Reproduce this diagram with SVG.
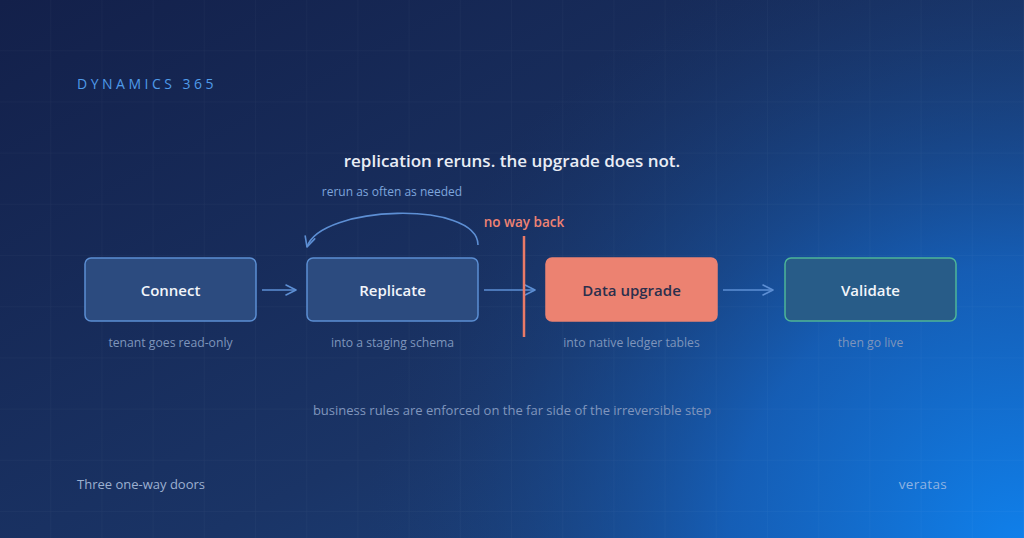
<svg xmlns="http://www.w3.org/2000/svg" width="1024" height="538" viewBox="0 0 1024 538">
<defs>
<linearGradient id="bg" x1="0" y1="0" x2="1" y2="1">
<stop offset="0" stop-color="#13204a"/>
<stop offset="0.6" stop-color="#1a3466"/>
<stop offset="1" stop-color="#1c4a8a"/>
</linearGradient>
<radialGradient id="glow" cx="1024" cy="560" r="660" gradientUnits="userSpaceOnUse">
<stop offset="0" stop-color="#0f82ee" stop-opacity="1"/>
<stop offset="0.45" stop-color="#1465c4" stop-opacity="0.8"/>
<stop offset="1" stop-color="#1a3a70" stop-opacity="0"/>
</radialGradient>
<pattern id="grid" width="51.2" height="51.2" patternUnits="userSpaceOnUse">
<path d="M51.2 0V51.2M0 51.2H51.2" fill="none" stroke="#ffffff" stroke-opacity="0.045" stroke-width="1"/>
</pattern>
<marker id="chev" viewBox="0 0 12 12" refX="11" refY="6" markerWidth="12" markerHeight="12" markerUnits="userSpaceOnUse" orient="auto">
<path d="M1 1L11 6L1 11" fill="none" stroke="#5d8fd4" stroke-width="1.6" stroke-linecap="round" stroke-linejoin="round"/>
</marker>
</defs>
<style>
text{font-family:"Open Sans",Lato,"Noto Sans",sans-serif}
.box{stroke-width:1.5}
.blue{fill:#2c4b7f;stroke:#5b8ed3}
.lbl{font-size:15px;font-weight:600;text-anchor:middle;fill:#f2f5fa}
.sub{font-size:12.2px;text-anchor:middle;fill:#7e95bb}
.conn{fill:none;stroke:#5d8fd4;stroke-width:1.6}
</style>
<rect width="1024" height="538" fill="url(#bg)"/>
<rect width="1024" height="538" fill="url(#glow)"/>
<rect width="1024" height="538" fill="url(#grid)"/>

<text x="77" y="89" font-size="14" fill="#4f9be9" letter-spacing="3.5">DYNAMICS 365</text>
<text x="512" y="167" font-size="17" font-weight="600" text-anchor="middle" fill="#e9edf5">replication reruns. the upgrade does not.</text>
<text x="392" y="196" font-size="12" text-anchor="middle" fill="#7ea5dc">rerun as often as needed</text>
<text x="524" y="227" font-size="13.5" font-weight="600" text-anchor="middle" fill="#ef8373">no way back</text>

<g id="connectors">
<path class="conn" d="M262 290H296" marker-end="url(#chev)"/>
<path class="conn" d="M484 290H535" marker-end="url(#chev)"/>
<path class="conn" d="M723 290H773" marker-end="url(#chev)"/>
<path class="conn" d="M478 245C478 200 320 205 307 247" marker-end="url(#chev)"/>
</g>

<g id="node-connect">
<rect class="box blue" x="85" y="258" width="171" height="63" rx="6"/>
<text class="lbl" x="170.5" y="296">Connect</text>
<text class="sub" x="170.5" y="347">tenant goes read-only</text>
</g>
<g id="node-replicate">
<rect class="box blue" x="307" y="258" width="171" height="63" rx="6"/>
<text class="lbl" x="392.5" y="296">Replicate</text>
<text class="sub" x="392.5" y="347">into a staging schema</text>
</g>
<g id="node-upgrade">
<rect class="box" x="546" y="258" width="171" height="63" rx="6" fill="#ec8271" stroke="#ec8271"/>
<text class="lbl" x="631.5" y="296" style="fill:#2b2f4c">Data upgrade</text>
<text class="sub" x="631.5" y="347">into native ledger tables</text>
</g>
<g id="node-validate">
<rect class="box" x="785" y="258" width="171" height="63" rx="6" fill="#285c88" stroke="#4db598"/>
<text class="lbl" x="870.5" y="296">Validate</text>
<text class="sub" x="870.5" y="347">then go live</text>
</g>

<g id="barrier">
<line x1="524" y1="236" x2="524" y2="337" stroke="#ea7a67" stroke-width="2.5"/>
</g>

<text x="512" y="415" font-size="13" text-anchor="middle" fill="#8096bd">business rules are enforced on the far side of the irreversible step</text>
<text x="77" y="489" font-size="13" fill="#9cb0d0">Three one-way doors</text>
<text x="947" y="489" font-size="13.5" text-anchor="end" fill="#8fb3e2" letter-spacing="0.3">veratas</text>
</svg>
